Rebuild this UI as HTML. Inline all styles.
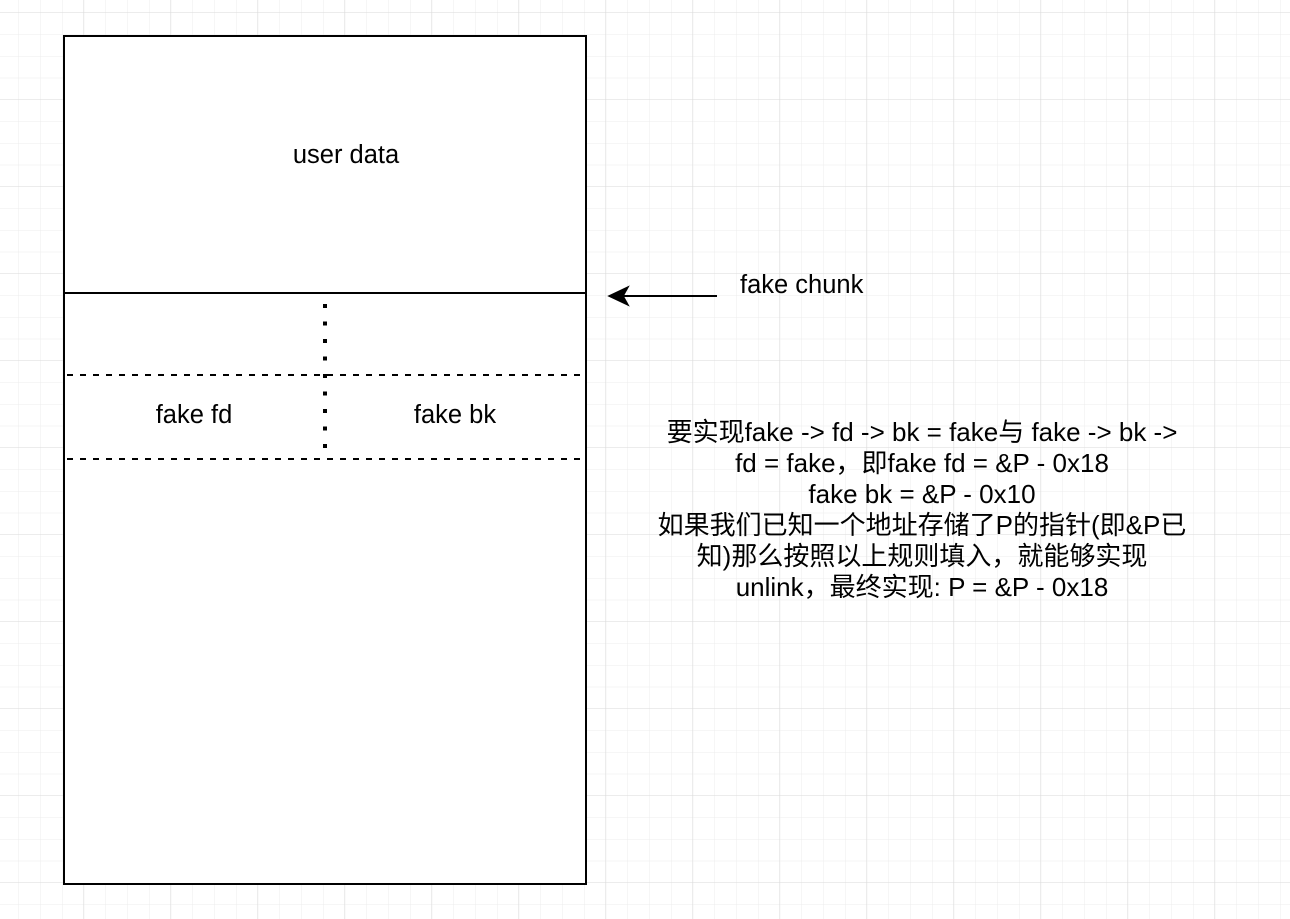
<!DOCTYPE html>
<html><head><meta charset="utf-8"><style>html,body{margin:0;padding:0;background:#fff}svg{display:block}</style></head>
<body>
<svg width="1290" height="919" xmlns="http://www.w3.org/2000/svg" font-family="Liberation Sans, Noto Sans CJK SC, sans-serif">
<defs>
<pattern id="minor" x="-2.75" y="-8.75" width="21.75" height="21.75" patternUnits="userSpaceOnUse">
<path d="M21.75 0V21.75M0 21.75H21.75" stroke="#ececec" stroke-width="1" fill="none"/>
</pattern>
<pattern id="major" x="-3" y="-74" width="87" height="87" patternUnits="userSpaceOnUse">
<path d="M87 0V87M0 87H87" stroke="#dadada" stroke-width="1" fill="none"/>
</pattern>
</defs>
<rect width="1290" height="919" fill="url(#minor)"/>
<rect width="1290" height="919" fill="url(#major)"/>
<rect x="64" y="36" width="522" height="848" fill="#fff" stroke="#000" stroke-width="2"/>
<line x1="64" y1="293" x2="586" y2="293" stroke="#000" stroke-width="2"/>
<line x1="67" y1="375" x2="584" y2="375" stroke="#000" stroke-width="2" stroke-dasharray="6,7"/>
<line x1="67" y1="459" x2="584" y2="459" stroke="#000" stroke-width="2" stroke-dasharray="6,7"/>
<line x1="325" y1="304" x2="325" y2="452" stroke="#000" stroke-width="4" stroke-dasharray="4,13.5"/>
<text x="346" y="163" font-size="25.5" text-anchor="middle">user data</text>
<text x="194" y="423" font-size="25.5" text-anchor="middle">fake fd</text>
<text x="455" y="423" font-size="25.5" text-anchor="middle">fake bk</text>
<line x1="620" y1="296" x2="717" y2="296" stroke="#000" stroke-width="2"/>
<path d="M609 296 L628 287 L623 296 L628 305 Z" fill="#000" stroke="#000" stroke-width="1.5"/>
<text x="740" y="293" font-size="25.5">fake chunk</text>
<g font-size="26" text-anchor="middle">
<text x="922" y="441">要实现fake -&gt; fd -&gt; bk = fake与 fake -&gt; bk -&gt;</text>
<text x="922" y="472">fd = fake，即fake fd = &amp;P - 0x18</text>
<text x="922" y="503">fake bk = &amp;P - 0x10</text>
<text x="922" y="534">如果我们已知一个地址存储了P的指针(即&amp;P已</text>
<text x="922" y="565">知)那么按照以上规则填入，就能够实现</text>
<text x="922" y="596">unlink，最终实现: P = &amp;P - 0x18</text>
</g>
</svg>
</body></html>
